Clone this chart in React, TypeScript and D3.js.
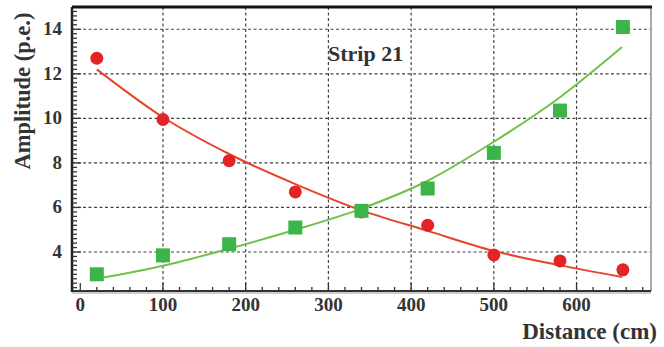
import React from "react";
import * as d3 from "d3";

const distances = [20, 100, 180, 260, 340, 420, 500, 580, 656];
const redValues = [12.7, 9.95, 8.1, 6.7, 5.8, 5.2, 3.87, 3.6, 3.2];
const greenValues = [3.0, 3.85, 4.35, 5.1, 5.85, 6.85, 8.45, 10.35, 14.1];
const fitX = [20, 100, 180, 260, 340, 420, 500, 580, 655];
const redFit = [12.2, 10.05, 8.4, 7.05, 5.87, 4.95, 4.05, 3.4, 2.88];
const greenFit = [2.8, 3.38, 4.15, 5.0, 5.95, 7.2, 8.95, 10.95, 13.2];
const xTicks = [0, 100, 200, 300, 400, 500, 600];
const yTicks = [4, 6, 8, 10, 12, 14];
const title = "Strip 21";
const xLabel = "Distance (cm)";
const yLabel = "Amplitude (p.e.)";

const W = 664, H = 347;
const L = 72, R = 651, T = 7, B = 291;

export default function App() {
  const x = d3.scaleLinear().domain([-10, 690]).range([L, R]);
  const y = d3.scaleLinear().domain([2.25, 15]).range([B, T]);
  const line = d3.line<number>().x((_, i) => x(fitX[i])).curve(d3.curveMonotoneX);
  const redPath = line.y((d) => y(d))(redFit) || "";
  const greenPath = line.y((d) => y(d))(greenFit) || "";
  const xMinor = d3.range(0, 690, 20);
  const yMinor = d3.range(2.4, 15, 0.2);
  const font = "'Liberation Serif', 'Times New Roman', serif";
  return (
    <svg width={W} height={H} style={{ position: "absolute", left: 0, top: 0, background: "#fff" }}>
      <g stroke="#444" strokeWidth={1.2} strokeDasharray="3,2.5">
        {xTicks.filter((t) => t > 0).map((t) => (
          <line key={"gx" + t} x1={x(t)} x2={x(t)} y1={T} y2={B} />
        ))}
        {yTicks.map((t) => (
          <line key={"gy" + t} x1={L} x2={R} y1={y(t)} y2={y(t)} />
        ))}
      </g>
      <line x1={R} x2={R} y1={T} y2={B} stroke="#aaa" strokeWidth={2} />
      <line x1={L} x2={R + 1} y1={T} y2={T} stroke="#111" strokeWidth={3} />
      <line x1={L} x2={R} y1={B} y2={B} stroke="#333" strokeWidth={2} />
      <line x1={L} x2={R} y1={B + 2} y2={B + 2} stroke="#999" strokeWidth={1} />
      <line x1={L} x2={L} y1={T} y2={B + 1} stroke="#222" strokeWidth={2.5} />
      <g stroke="#333" strokeWidth={1.3}>
        {xMinor.map((t) => (
          <line key={"xm" + t} x1={x(t)} x2={x(t)} y1={B} y2={B - (t % 100 === 0 ? 8 : 4)} />
        ))}
        {yMinor.map((t) => {
          const major = Math.abs(t / 2 - Math.round(t / 2)) < 0.01;
          return <line key={"ym" + t.toFixed(1)} x1={L} x2={L + (major ? 9 : 5)} y1={y(t)} y2={y(t)} />;
        })}
      </g>
      <path d={redPath} fill="none" stroke="#e8442c" strokeWidth={2} />
      <path d={greenPath} fill="none" stroke="#72c04a" strokeWidth={2} />
      {distances.map((d, i) => (
        <circle key={"r" + i} cx={x(d)} cy={y(redValues[i])} r={6.5} fill="#e32424" />
      ))}
      {distances.map((d, i) => (
        <rect key={"g" + i} x={x(d) - 7} y={y(greenValues[i]) - 7} width={14} height={14} fill="#3bb54a" />
      ))}
      <g fontFamily={font} fontWeight="bold" fontSize={19} fill="#333">
        {xTicks.map((t) => (
          <text key={"xl" + t} x={x(t)} y={311} textAnchor="middle">{t}</text>
        ))}
        {yTicks.map((t) => (
          <text key={"yl" + t} x={62} y={y(t) + 6} textAnchor="end">{t}</text>
        ))}
        <text x={657} y={339} textAnchor="end" fontSize={23}>{xLabel}</text>
        <text transform={`translate(30,91) rotate(-90)`} textAnchor="middle" fontSize={22.5}>{yLabel}</text>
        <text x={328} y={61} fontSize={22}>{title}</text>
      </g>
    </svg>
  );
}
